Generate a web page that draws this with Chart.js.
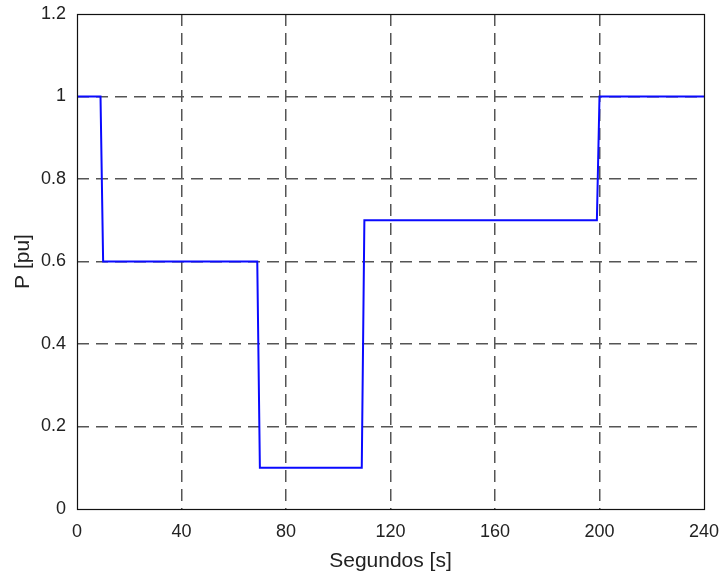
<!DOCTYPE html>
<html>
<head>
<meta charset="utf-8">
<script src="https://cdn.jsdelivr.net/npm/chart.js@4"></script>
<style>
  html, body { margin:0; padding:0; background:#fff; }
  #wrap { width:722px; height:579px; }
</style>
</head>
<body>
<div id="wrap"><canvas id="c" width="722" height="579"></canvas></div>
<script>
// time in seconds, power in pu
const tiempo = [0, 9, 10, 69, 70, 109, 110, 199, 200, 240];
const potencia = [1, 1, 0.6, 0.6, 0.1, 0.1, 0.7, 0.7, 1, 1];

const xTitle = "Segundos [s]";
const yTitle = "P [pu]";

const pts = tiempo.map((t, i) => ({ x: t, y: potencia[i] }));

// box round the plot, like matlab
const boxPlugin = {
  id: "box",
  afterDraw(chart) {
    const a = chart.chartArea;
    const ctx = chart.ctx;
    ctx.save();
    ctx.strokeStyle = "#111";
    ctx.lineWidth = 1.2;
    ctx.setLineDash([]);
    ctx.strokeRect(a.left + 0.5, a.top + 0.5, a.right - a.left, a.bottom - a.top);
    ctx.restore();
  }
};

// no label overhang, so the padding alone sets the plot box
function noOverhang(s) {
  s.paddingTop = 0; s.paddingBottom = 0;
  s.paddingLeft = 0; s.paddingRight = 0;
}

// skip the grid lines that sit on the box
function gridCol(c) {
  const s = c.scale;
  if (c.tick && (c.tick.value === s.min || c.tick.value === s.max)) return "rgba(0,0,0,0)";
  return "#555";
}

const tickFont = { family: "Liberation Sans, Arial", size: 18 };
const titleFont = { family: "Liberation Sans, Arial", size: 21 };

const ctx = document.getElementById("c").getContext("2d");
new Chart(ctx, {
  type: "line",
  data: {
    datasets: [{
      data: pts,
      borderColor: "#0a0aff",
      borderWidth: 2,
      pointRadius: 0,
      tension: 0,
      fill: false
    }]
  },
  options: {
    responsive: false,
    animation: false,
    layout: { padding: { left: 11, top: 14, right: 18, bottom: 5 } },
    plugins: {
      legend: { display: false },
      tooltip: { enabled: false }
    },
    scales: {
      x: {
        type: "linear",
        min: 0, max: 240,
        afterFit: s => { s.height = 65; noOverhang(s); },
        ticks: {
          stepSize: 40,
          padding: 12,
          color: "#222",
          font: tickFont
        },
        grid: {
          color: gridCol,
          lineWidth: 1.5,
          drawTicks: false
        },
        border: { display: false, dash: [12, 7] },
        title: {
          display: true,
          text: xTitle,
          color: "#222",
          padding: 0,
          font: titleFont
        }
      },
      y: {
        min: 0, max: 1.2,
        afterFit: s => { s.width = 66; noOverhang(s); },
        ticks: {
          stepSize: 0.2,
          padding: 11,
          color: "#222",
          font: tickFont,
          callback: v => String(Math.round(v * 10) / 10)
        },
        grid: {
          color: gridCol,
          lineWidth: 1.5,
          drawTicks: false
        },
        border: { display: false, dash: [12, 7] },
        title: {
          display: true,
          text: yTitle,
          color: "#222",
          padding: 0,
          font: titleFont
        }
      }
    }
  },
  plugins: [boxPlugin]
});
</script>
</body>
</html>
